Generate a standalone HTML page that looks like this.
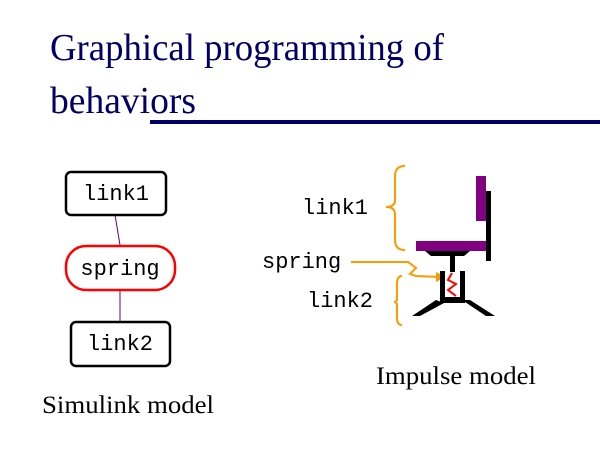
<!DOCTYPE html>
<html><head><style>body{margin:0;background:#fff}svg{display:block}</style></head>
<body>
<svg width="600" height="450" viewBox="0 0 600 450" xmlns="http://www.w3.org/2000/svg">
<g font-family="Liberation Serif, serif" fill="#000066">
<text x="50" y="60" font-size="38" textLength="394" lengthAdjust="spacingAndGlyphs">Graphical programming of</text>
<text x="50" y="113" font-size="38" textLength="146" lengthAdjust="spacingAndGlyphs">behaviors</text>
</g>
<rect x="150" y="120" width="450" height="4" fill="#000066"/>
<!-- simulink -->
<line x1="115" y1="215" x2="120" y2="245" stroke="#660066" stroke-width="1"/>
<line x1="120" y1="290" x2="120" y2="321" stroke="#660066" stroke-width="1"/>
<rect x="66" y="172" width="100" height="43" rx="5" fill="#fff" stroke="#000" stroke-width="2.5"/>
<rect x="66" y="246" width="109" height="44" rx="20" fill="#fff" stroke="#f00" stroke-width="2.5"/>
<rect x="71" y="322" width="99" height="44" rx="5" fill="#fff" stroke="#000" stroke-width="2.5"/>
<g font-family="Liberation Mono, monospace" font-size="22" fill="#000">
<text x="116" y="200" text-anchor="middle">link1</text>
<text x="120" y="275" text-anchor="middle">spring</text>
<text x="120" y="350" text-anchor="middle">link2</text>
<text x="302" y="214">link1</text>
<text x="262" y="268">spring</text>
<text x="307" y="307">link2</text>
</g>
<g font-family="Liberation Serif, serif" fill="#000">
<text x="42" y="413" font-size="25" textLength="172" lengthAdjust="spacingAndGlyphs">Simulink model</text>
<text x="376" y="384" font-size="25" textLength="160" lengthAdjust="spacingAndGlyphs">Impulse model</text>
</g>
<!-- braces -->
<g fill="none" stroke="#f90" stroke-width="2">
<path d="M405,166 Q395,166 395,176 L395,200 Q395,207 386,207 Q395,207 395,214 L395,240 Q395,250 405,250"/>
<path d="M402,276 Q397,276 397,284 L397,300 L395,302 L397,304 L397,318 Q397,325 402,325"/>
<path d="M351,262 L408,262 L416,268 L410,274 L416,276 L440,277"/>
</g>
<polygon points="436,272 445,277 436,282" fill="#f90"/>
<!-- chair -->
<rect x="476" y="176" width="10" height="45" fill="#800080"/>
<rect x="486" y="191" width="5" height="70" fill="#000"/>
<rect x="416" y="241" width="70" height="10" fill="#800080"/>
<polygon points="425,251 470,251 464,256 431,256" fill="#000"/>
<rect x="450" y="256" width="5" height="16" fill="#000"/>
<rect x="440" y="271" width="5" height="30" fill="#000"/>
<rect x="460" y="271" width="5" height="30" fill="#000"/>
<rect x="440" y="297" width="25" height="6" fill="#000"/>
<polygon points="412,316 436,300 444,303 420,316" fill="#000"/>
<polygon points="462,300 470,300 495,316 486,316" fill="#000"/>
<polyline points="452,273 448,280 456,284 448,290 456,296" fill="none" stroke="#f00" stroke-width="2"/>
</svg>
</body></html>
